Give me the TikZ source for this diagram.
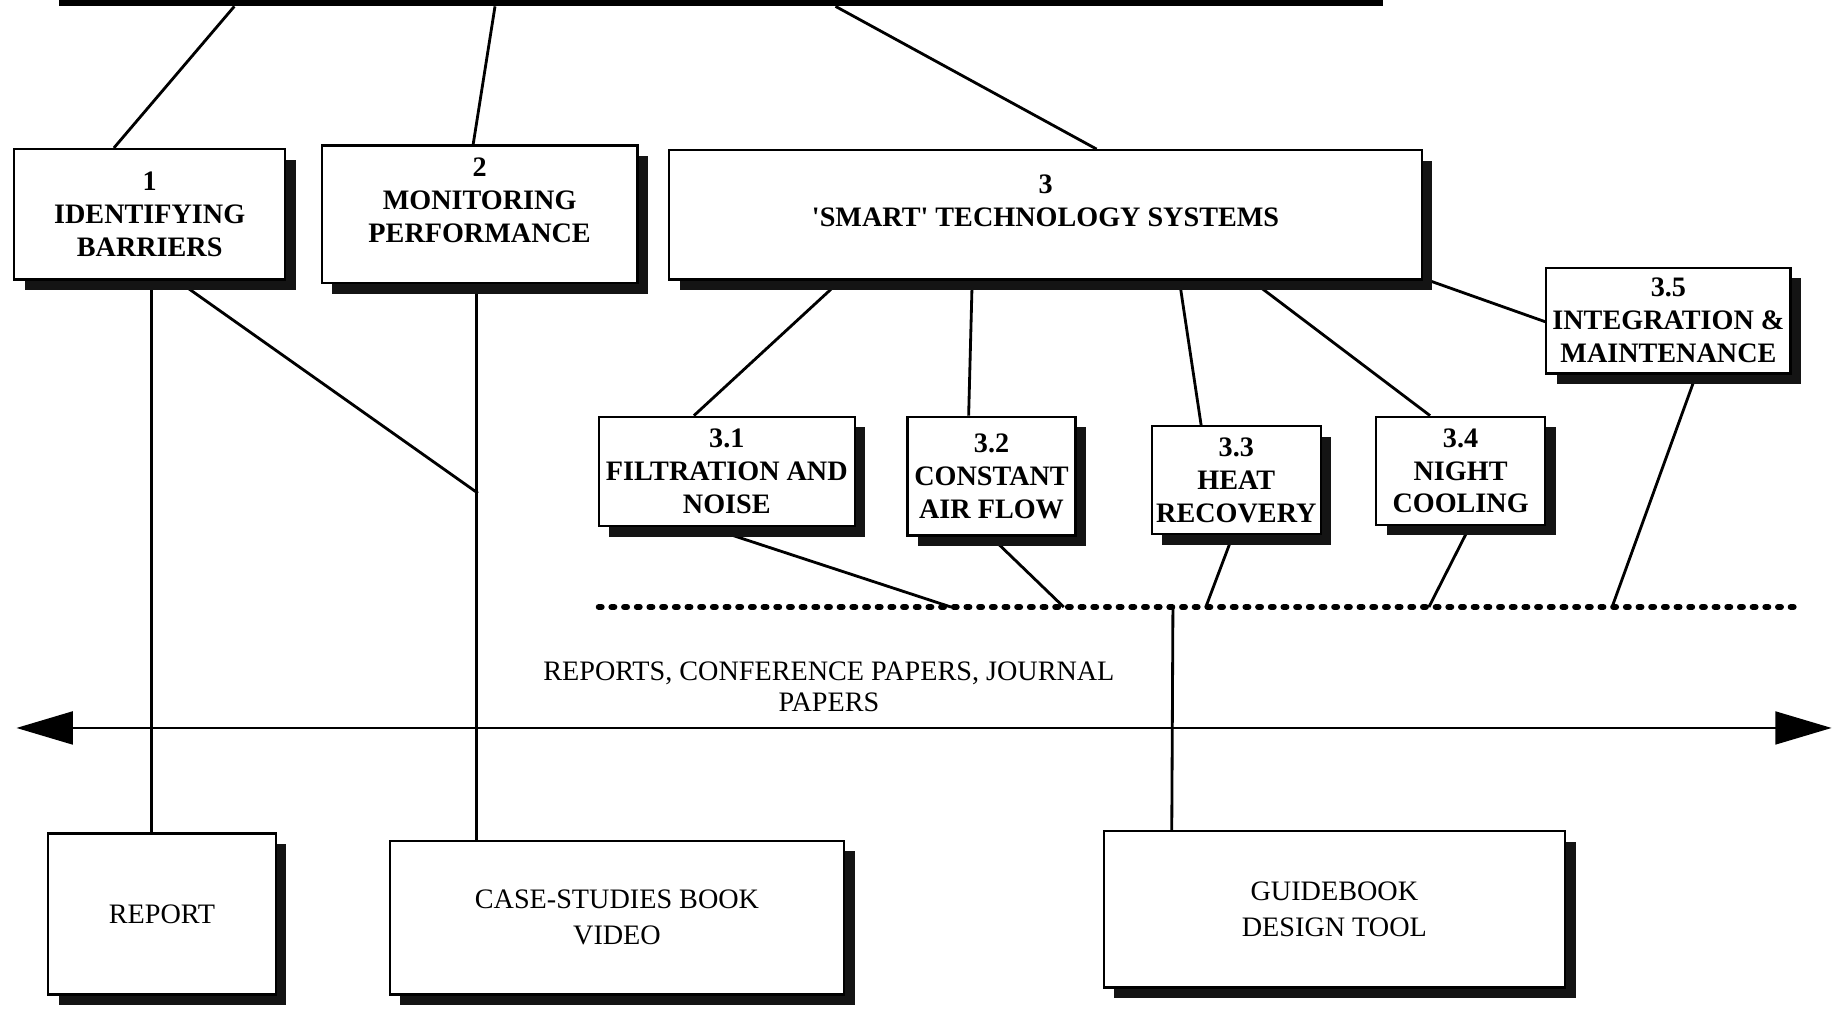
\documentclass[tikz,border=0pt]{standalone}
\usepackage{fontspec}
\setmainfont{Liberation Serif}
\usetikzlibrary{arrows.meta,calc,shadows,backgrounds}
\newcommand\strq{\XeTeXglyph\XeTeXcharglyph"27\relax}
\begin{document}
\begin{tikzpicture}[x=0.5pt,y=-0.5pt,
  box/.style={draw=black, line width=1pt, fill=white, inner sep=0pt, align=center,
    font=\fontsize{12}{14}\selectfont\bfseries,
    drop shadow={shadow xshift=4.5pt, shadow yshift=-4.5pt, fill=black!92, opacity=1}},
  outbox/.style={box, font=\fontsize{12}{15.5}\selectfont},
  link/.style={line width=1.2pt},
  dotline/.style={line width=2.6pt, line cap=round, dash pattern=on 1.2pt off 4.2pt},
  plain/.style={align=center, inner sep=0pt, font=\fontsize{12}{13.5}\selectfont},
  bigtip/.tip={Triangle[length=24pt,width=14pt]}
]
\begin{scope}[on background layer]
  \fill[white] (0,0) rectangle (1568,859);
\end{scope}
\useasboundingbox (0,0) rectangle (1568,859);

% top bar (cut off by the top edge)
\node[fill=black, inner sep=0pt, minimum width=564pt, minimum height=5pt] (top) at (614,0) {};

% level 1
\node[box, minimum width=115.5pt, minimum height=55.5pt] (b1) at (127.5,182.5) {1\\IDENTIFYING\\BARRIERS};
\node[box, minimum width=134.5pt, minimum height=58.5pt] (b2) at (408.5,182.5) {2\\MONITORING\\PERFORMANCE\\[-2pt]\mbox{}};
\node[box, minimum width=320.5pt, minimum height=55pt] (b3) at (890.5,183) {3\\\strq SMART\strq{} TECHNOLOGY SYSTEMS\\[-2pt]\mbox{}};

% level 2
\node[box, minimum width=104pt, minimum height=45pt] (b35) at (1421,273) {3.5\\INTEGRATION \&\\MAINTENANCE};
\node[box, minimum width=109pt, minimum height=46.5pt] (b31) at (619,401.5) {3.1\\FILTRATION AND\\NOISE};
\node[box, minimum width=71.5pt, minimum height=50.5pt] (b32) at (844.5,405.5) {3.2\\CONSTANT\\AIR FLOW};
\node[box, minimum width=72pt, minimum height=46pt] (b33) at (1053,409) {3.3\\HEAT\\RECOVERY};
\node[box, minimum width=72pt, minimum height=46pt] (b34) at (1244,401) {3.4\\NIGHT\\COOLING};

% outputs
\node[outbox, minimum width=97pt, minimum height=68.5pt] (rep) at (138,778.5) {REPORT};
\node[outbox, minimum width=193.5pt, minimum height=65.5pt] (case) at (525.5,781.5) {CASE-STUDIES BOOK\\VIDEO};
\node[outbox, minimum width=196.5pt, minimum height=66.5pt] (gb) at (1136.5,774.5) {GUIDEBOOK\\DESIGN TOOL};

% label
\node[plain] (pap) at (706,585) {REPORTS, CONFERENCE PAPERS, JOURNAL\\PAPERS};

% free-end coordinates
\coordinate (dl) at (510,517);
\coordinate (dr) at (1535,517);
\coordinate (d1) at (810,517);
\coordinate (d2) at (906,517);
\coordinate (d3) at (1027,517);
\coordinate (d4) at (1217,517);
\coordinate (d5) at (1373,517);
\coordinate (dg) at (999,517);
\coordinate (j) at (407,420);
\coordinate (al) at (14,620);
\coordinate (ar) at (1560,620);

\begin{scope}[on background layer]
  % from top bar
  \draw[link] ($(top.south west)+(150,0)$) -- ($(b1.north west)+(86,0)$);
  \draw[link] ($(top.south west)+(372,0)$) -- ($(b2.north west)+(130,0)$);
  \draw[link] ($(top.south west)+(662,0)$) -- ($(b3.north west)+(365,0)$);
  % from box 3
  \draw[link] ($(b3.south west)+(146.7,0)$) -- ($(b31.north west)+(82,0)$);
  \draw[link] ($(b3.south west)+(259,0)$) -- ($(b32.north west)+(53,0)$);
  \draw[link] ($(b3.south west)+(435.5,0)$) -- ($(b33.north west)+(43,0)$);
  \draw[link] ($(b3.south west)+(497,0)$) -- ($(b34.north west)+(47,0)$);
  \draw[link] ($(b3.south east)+(-6,-4)$) -- ($(b35.north west)+(0,47)$);
  % sub-boxes to dotted line
  \draw[link] ($(b31.south west)+(93.7,0)$) -- (d1);
  \draw[link] ($(b32.south west)+(71.8,0)$) -- (d2);
  \draw[link] ($(b33.south west)+(70,0)$) -- (d3);
  \draw[link] ($(b34.south west)+(81,0)$) -- (d4);
  \draw[link] ($(b35.south west)+(128.7,0)$) -- (d5);
  % verticals to outputs
  \draw[link] ($(b1.south west)+(118,0)$) -- ($(rep.north west)+(89,0)$);
  \draw[link] ($(b1.south west)+(140,0)$) -- (j);
  \draw[link] ($(b2.south west)+(133,0)$) -- ($(case.north west)+(75,0)$);
  \draw[link] (dg) -- ($(gb.north west)+(59,0)$);
\end{scope}

% dotted line
\draw[dotline] (dl) -- (dr);

% double arrow
\draw[line width=1pt, {bigtip}-{bigtip}] (al) -- (ar);
\end{tikzpicture}
\end{document}
